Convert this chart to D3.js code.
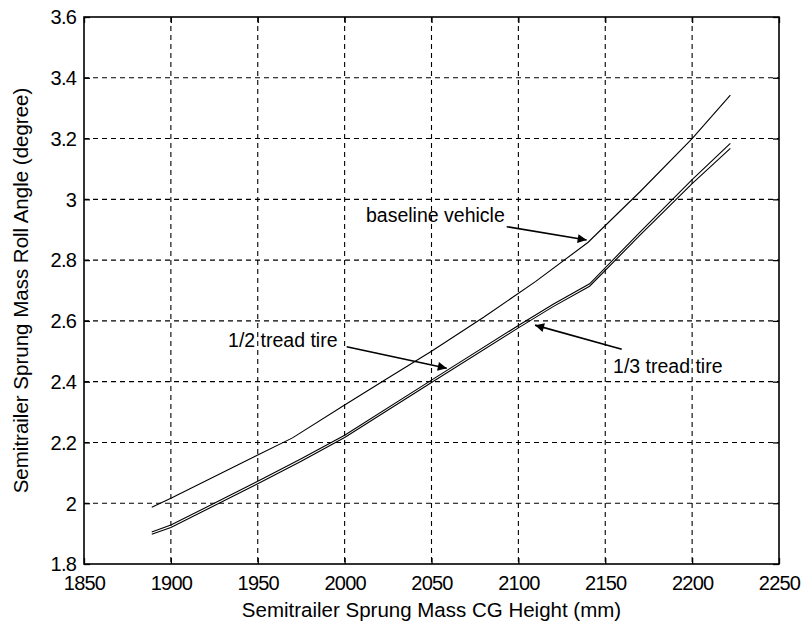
<!DOCTYPE html>
<html><head><meta charset="utf-8">
<script src="https://cdn.jsdelivr.net/npm/d3@7"></script>
<style>
body{margin:0;background:#fff;}
text{font-family:"Liberation Sans",Arial,Helvetica,sans-serif;fill:#000;}
</style></head>
<body>
<svg id="chart" width="804" height="626"></svg>
<script>
// ---- data ----
const xTicks = [1850,1900,1950,2000,2050,2100,2150,2200,2250];
const yTicks = [1.8,2,2.2,2.4,2.6,2.8,3,3.2,3.4,3.6];
const yTickLabels = ["1.8","2","2.2","2.4","2.6","2.8","3","3.2","3.4","3.6"];

const baselineX = [1889,1900,1950,1970,2000,2025,2050,2080,2110,2140,2170,2200,2222];
const baselineY = [1.987,2.016,2.159,2.215,2.323,2.412,2.500,2.612,2.730,2.858,3.025,3.200,3.343];

const halfTreadX = [1889,1900,1950,1975,2000,2050,2100,2120,2141,2170,2200,2222];
const halfTreadY = [1.905,1.928,2.072,2.146,2.224,2.405,2.585,2.655,2.722,2.892,3.065,3.184];

const thirdTreadX = [1889,1900,1950,1975,2000,2050,2100,2120,2141,2170,2200,2222];
const thirdTreadY = [1.898,1.920,2.064,2.138,2.216,2.397,2.577,2.647,2.714,2.882,3.052,3.168];

const annLabels = ["baseline vehicle","1/2 tread tire","1/3 tread tire"];
const annTextX = [2012.3,1932.9,2154.5];
const annTextY = [2.926,2.515,2.430];
const annFromX = [2093.3,2001.2,2159.5];
const annFromY = [2.910,2.515,2.507];
const annToX = [2139.3,2058.8,2109.6];
const annToY = [2.866,2.444,2.586];

const xLabel = "Semitrailer Sprung Mass CG Height (mm)";
const yLabel = "Semitrailer Sprung Mass Roll Angle (degree)";

// ---- layout ----
const svg = d3.select("#chart");
const L = 84, T = 17, R = 779, B = 564;
const x = d3.scaleLinear().domain([1850,2250]).range([L,R]);
const y = d3.scaleLinear().domain([1.8,3.6]).range([B,T]);

// grid
const g = svg.append("g");
g.selectAll(".vg").data(xTicks.slice(1,-1)).join("line")
  .attr("x1",d=>x(d)).attr("x2",d=>x(d)).attr("y1",T).attr("y2",B)
  .attr("stroke","#000").attr("stroke-width",1.1).attr("stroke-dasharray","5,4");
g.selectAll(".hg").data(yTicks.slice(1,-1)).join("line")
  .attr("y1",d=>y(d)).attr("y2",d=>y(d)).attr("x1",L).attr("x2",R)
  .attr("stroke","#000").attr("stroke-width",1.1).attr("stroke-dasharray","5,4");

// axes
const ax = svg.append("g").attr("transform",`translate(0,${B})`)
  .call(d3.axisBottom(x).tickValues(xTicks).tickFormat(d3.format("d")).tickSizeInner(-6).tickSizeOuter(0).tickPadding(12));
const ay = svg.append("g").attr("transform",`translate(${L},0)`)
  .call(d3.axisLeft(y).tickValues(yTicks).tickFormat((d,i)=>yTickLabels[i]).tickSizeInner(-6).tickSizeOuter(0).tickPadding(8));
const axT = svg.append("g").attr("transform",`translate(0,${T})`)
  .call(d3.axisTop(x).tickValues(xTicks).tickFormat("").tickSizeInner(-6).tickSizeOuter(0));
const ayR = svg.append("g").attr("transform",`translate(${R},0)`)
  .call(d3.axisRight(y).tickValues(yTicks).tickFormat("").tickSizeInner(-6).tickSizeOuter(0));
[ax,ay,axT,ayR].forEach(a=>{
  a.select(".domain").remove();
  a.selectAll(".tick line").attr("stroke","#000").attr("stroke-width",1.3);
  a.selectAll("text").style("font-size","20px").style("letter-spacing","-0.8px").attr("fill","#000");
});
ax.selectAll("text").attr("dy","0.71em");
ay.selectAll("text").attr("dy","0.34em");

// frame
svg.append("rect").attr("x",L).attr("y",T).attr("width",R-L).attr("height",B-T)
  .attr("fill","none").attr("stroke","#000").attr("stroke-width",1.6);

// series
const line = d3.line().x(d=>x(d[0])).y(d=>y(d[1]));
const series = [
  [baselineX,baselineY],
  [halfTreadX,halfTreadY],
  [thirdTreadX,thirdTreadY]
];
svg.selectAll(".series").data(series).join("path")
  .attr("d",s=>line(s[0].map((v,i)=>[v,s[1][i]])))
  .attr("fill","none").attr("stroke","#000").attr("stroke-width",1.1);

// annotations
svg.append("defs").append("marker").attr("id","ah")
  .attr("viewBox","0 0 10 10").attr("refX",10).attr("refY",5)
  .attr("markerWidth",14).attr("markerHeight",9).attr("markerUnits","userSpaceOnUse")
  .attr("orient","auto")
  .append("path").attr("d","M0,0 L10,5 L0,10 Z").attr("fill","#000");
annLabels.forEach((t,i)=>{
  svg.append("text").attr("x",x(annTextX[i])).attr("y",y(annTextY[i]))
    .style("font-size","19.5px").text(t);
  svg.append("line").attr("x1",x(annFromX[i])).attr("y1",y(annFromY[i]))
    .attr("x2",x(annToX[i])).attr("y2",y(annToY[i]))
    .attr("stroke","#000").attr("stroke-width",1.6).attr("marker-end","url(#ah)");
});

// axis labels
svg.append("text").attr("x",(L+R)/2).attr("y",617).attr("text-anchor","middle")
  .style("font-size","20.5px").text(xLabel);
svg.append("text").attr("transform",`translate(28,${(T+B)/2}) rotate(-90)`)
  .attr("text-anchor","middle").style("font-size","20.5px").text(yLabel);
</script>
</body></html>
